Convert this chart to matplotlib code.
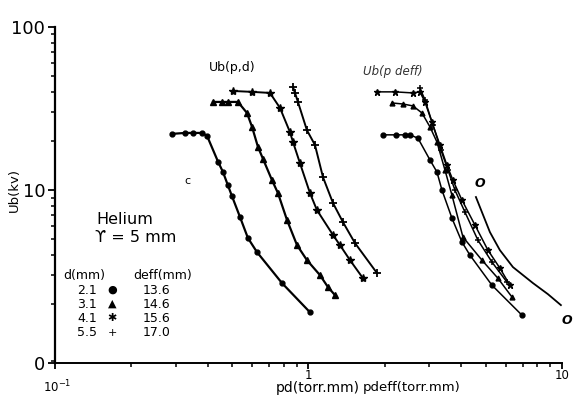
import matplotlib
matplotlib.use("Agg")
import matplotlib.pyplot as plt
from matplotlib.ticker import FixedLocator, NullFormatter, LogLocator
from matplotlib.transforms import ScaledTranslation

# Ub(p,d) - napiecie przebicia w funkcji pd
pd_21 = [0.289, 0.326, 0.350, 0.380, 0.398, 0.440, 0.460, 0.481, 0.499, 0.537, 0.577, 0.626, 0.786, 1.014]
ub_21 = [22.1, 22.4, 22.4, 22.4, 21.5, 14.9, 12.9, 10.7, 9.19, 6.83, 5.08, 4.17, 2.69, 1.78]

pd_31 = [0.420, 0.456, 0.481, 0.527, 0.572, 0.599, 0.632, 0.662, 0.718, 0.758, 0.823, 0.901, 0.986, 1.110, 1.194, 1.272]
ub_31 = [34.7, 34.7, 34.7, 34.7, 29.7, 24.4, 18.4, 15.5, 11.5, 9.58, 6.55, 4.60, 3.72, 3.01, 2.54, 2.27]

pd_41 = [0.504, 0.599, 0.705, 0.772, 0.845, 0.869, 0.926, 1.014, 1.080, 1.250, 1.331, 1.458, 1.641]
ub_41 = [40.5, 40.0, 39.4, 31.9, 22.7, 19.7, 14.6, 9.58, 7.54, 5.30, 4.60, 3.72, 2.88]

pd_55 = [0.869, 0.885, 0.909, 0.986, 1.061, 1.141, 1.250, 1.368, 1.526, 1.863]
ub_55 = [42.8, 39.4, 34.7, 23.3, 18.9, 12.0, 8.32, 6.36, 4.73, 3.10]

# Ub(p,deff) - to samo w funkcji p*deff
pdeff_136 = [1.967, 2.214, 2.403, 2.515, 2.704, 3.016, 3.214, 3.363, 3.682, 4.033, 4.337, 5.296, 6.954]
ubeff_136 = [21.8, 21.8, 21.8, 21.8, 20.8, 15.3, 12.9, 10.0, 6.73, 4.80, 3.99, 2.61, 1.71]

pdeff_146 = [2.135, 2.359, 2.584, 2.804, 3.016, 3.214, 3.455, 3.682, 4.070, 4.835, 5.590, 6.351]
ubeff_146 = [34.2, 33.7, 32.8, 29.7, 24.4, 19.7, 13.3, 9.32, 5.15, 3.72, 2.88, 2.21]

pdeff_156 = [1.863, 2.194, 2.584, 2.753, 2.882, 3.070, 3.302, 3.519, 3.715, 4.033, 4.539, 5.107, 5.693, 6.236]
ubeff_156 = [40.0, 40.0, 39.4, 40.0, 34.7, 26.1, 18.9, 14.2, 11.5, 8.68, 6.10, 4.28, 3.32, 2.61]

pdeff_170 = [2.753, 2.882, 3.098, 3.332, 3.550, 3.784, 4.144, 4.663, 5.296, 6.067]
ubeff_170 = [42.2, 35.7, 25.1, 17.6, 13.3, 10.0, 7.33, 4.93, 3.62, 2.73]

# krzywa bez punktow (oznaczona "O")
pd_theory = [4.579, 4.835, 5.200, 5.693, 6.409, 7.684, 8.806, 9.91]
ub_theory = [9.06, 7.33, 5.52, 4.28, 3.37, 2.69, 2.30, 1.97]

y_bottom = 0.87
y_ticks = [y_bottom, 10, 100]
y_labels = ["0", "10", "100"]
x_ticks = [0.1, 1, 10]
x_labels = ["10$^{-1}$", "1", "10"]

fig = plt.figure(figsize=(5.76, 4.13), dpi=100)
ax = fig.add_axes([0.0955, 0.1211, 0.880, 0.8136])
ax.set_xscale("log")
ax.set_yscale("log")
ax.set_xlim(0.1, 10)
ax.set_ylim(y_bottom, 100)

k = "black"
ax.plot(pd_21, ub_21, color=k, lw=1.6, marker="o", ms=3.5)
ax.plot(pd_31, ub_31, color=k, lw=1.6, marker="^", ms=4)
ax.plot(pd_41, ub_41, color=k, lw=1.4, marker="*", ms=6)
ax.plot(pd_55, ub_55, color=k, lw=1.4, marker="+", ms=6, mew=1.3)

ax.plot(pdeff_136, ubeff_136, color=k, lw=1.1, marker="o", ms=3.5)
ax.plot(pdeff_146, ubeff_146, color=k, lw=1.1, marker="^", ms=3.5)
ax.plot(pdeff_156, ubeff_156, color=k, lw=1.1, marker="*", ms=5)
ax.plot(pdeff_170, ubeff_170, color=k, lw=1.1, marker="+", ms=5, mew=1.1)
ax.plot(pd_theory, ub_theory, color=k, lw=1.3, clip_on=False)

# opisy na wykresie
ax.text(0.499, 56.1, "Ub(p,d)", fontsize=9, ha="center", va="center")
ax.text(2.154, 53.0, "Ub(p deff)", fontsize=8.5, ha="center", va="center", style="italic", color="#333333")
ax.text(4.75, 11.0, "O", fontsize=9, ha="center", va="center", style="italic", weight="bold")
ax.text(10.5, 1.59, "O", fontsize=9, ha="center", va="center", style="italic", weight="bold")
ax.text(0.332, 11.4, "c", fontsize=8, ha="center", va="center")

# osie
ax.spines["top"].set_visible(False)
ax.spines["right"].set_visible(False)
ax.spines["left"].set_linewidth(1.6)
ax.spines["bottom"].set_linewidth(1.4)
ax.yaxis.set_major_locator(FixedLocator(y_ticks))
ax.set_yticklabels(y_labels, fontsize=13)
ax.xaxis.set_major_locator(FixedLocator(x_ticks))
ax.set_xticklabels(x_labels, fontsize=8.5)
ax.yaxis.set_minor_locator(LogLocator(base=10, subs=range(2, 10)))
ax.xaxis.set_minor_locator(LogLocator(base=10, subs=range(2, 10)))
ax.yaxis.set_minor_formatter(NullFormatter())
ax.xaxis.set_minor_formatter(NullFormatter())
ax.tick_params(axis="y", which="major", length=5, width=1.3, pad=2)
ax.tick_params(axis="x", which="major", length=4, width=1.3, pad=0.5)
ax.tick_params(which="minor", length=3, width=1.1)

# etykieta 10^-1 nizej, zeby nie wchodzila na "0"
lab = ax.get_xticklabels()[0]
lab.set_transform(lab.get_transform() + ScaledTranslation(0.02, -0.09, fig.dpi_scale_trans))

# etykiety osi
fig.text(14 / 576, 1 - 190 / 413, "Ub(kv)", fontsize=9.5, rotation=90, ha="center", va="center")
fig.text(318 / 576, 1 - 388 / 413, "pd(torr.mm)", fontsize=10, ha="center", va="center")
fig.text(412 / 576, 1 - 388 / 413, "pdeff(torr.mm)", fontsize=9.5, ha="center", va="center")

# legenda
fig.text(125 / 576, 1 - 220 / 413, "Helium", fontsize=11.5, ha="center", va="center")
fig.text(136 / 576, 1 - 238 / 413, "ϒ = 5 mm", fontsize=11.5, ha="center", va="center")
fig.text(63 / 576, 1 - 276 / 413, "d(mm)", fontsize=9, ha="left", va="center")
fig.text(133 / 576, 1 - 276 / 413, "deff(mm)", fontsize=9, ha="left", va="center")
d_vals = ["2.1", "3.1", "4.1", "5.5"]
deff_vals = ["13.6", "14.6", "15.6", "17.0"]
symbols = ["●", "▲", "✱", "+"]
row_y = [290, 304, 318, 333]
for d, s, de, y in zip(d_vals, symbols, deff_vals, row_y):
    fig.text(97 / 576, 1 - y / 413, d, fontsize=9, ha="right", va="center")
    fig.text(112 / 576, 1 - y / 413, s, fontsize=8, ha="center", va="center")
    fig.text(143 / 576, 1 - y / 413, de, fontsize=9, ha="left", va="center")

fig.savefig("out.png", dpi=100)
